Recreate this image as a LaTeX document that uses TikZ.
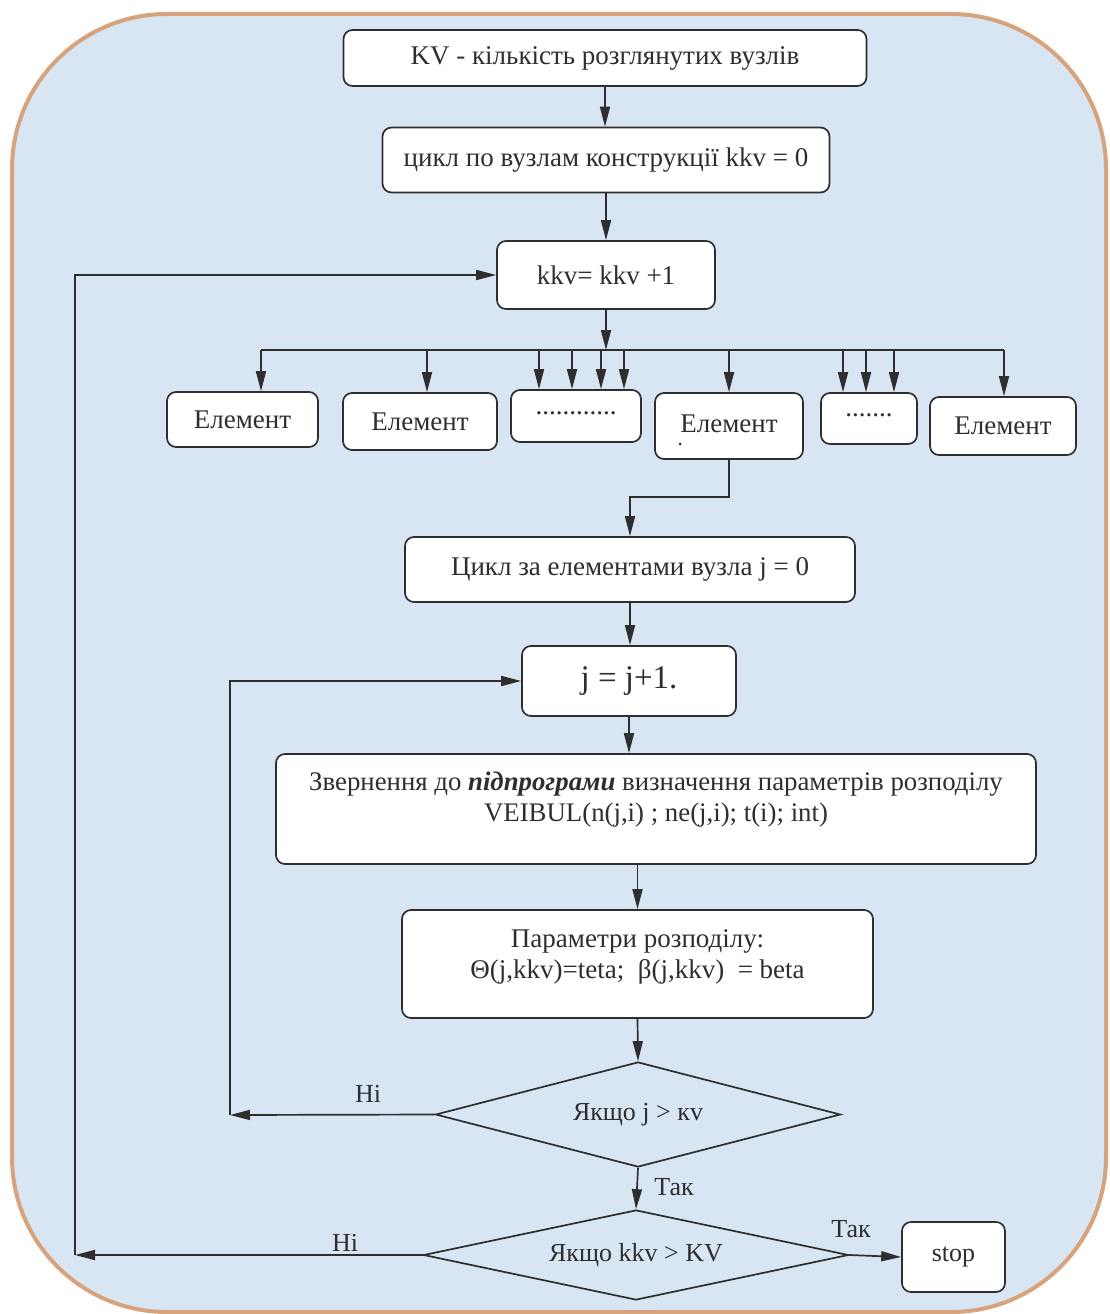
\documentclass[tikz,border=0pt]{standalone}
\usepackage{fontspec}
\setmainfont{Liberation Serif}
\usetikzlibrary{arrows.meta,shapes.geometric}
\definecolor{bgblue}{HTML}{D8E5F3}
\definecolor{bord}{HTML}{D7A37C}
\definecolor{ink}{HTML}{2E2E2E}
\begin{document}
\begin{tikzpicture}[x=1pt,y=-1pt,
  box/.style={draw=ink,line width=1.7pt,fill=white,rounded corners=9pt,inner sep=0pt,text=ink},
  arr/.style={draw=ink,line width=1.7pt,-{Triangle[length=20pt,width=10pt]}},
  ln/.style={draw=ink,line width=1.7pt},
  tx/.style={font=\fontsize{27}{32}\selectfont},
  dia/.style={draw=ink,line width=1.7pt,fill=bgblue,shape=diamond,aspect=3.9,inner sep=0pt},
  lab/.style={font=\fontsize{26}{30}\selectfont,text=ink}
]
\useasboundingbox (0,0) rectangle (1110,1314);
\path[fill=bgblue,draw=bord,line width=4pt,rounded corners=155pt] (12,14) rectangle (1106,1312);

% top boxes
\node[box,tx,minimum width=523pt,minimum height=56pt] (b1) at (605,58) {KV - кількість розглянутих вузлів};
\node[box,tx,minimum width=447pt,minimum height=65pt] (b2) at (606,160) {цикл по вузлам конструкції kkv = 0};
\node[box,tx,minimum width=218pt,minimum height=68pt] (b3) at (606,275) {kkv= kkv +1};
\draw[arr] (b1.south) -- (b1.south |- b2.north);
\draw[arr] (b2.south) -- (b2.south |- b3.north);

% bus
\coordinate (bus) at (606,350);
\coordinate (bl) at (261,350);
\coordinate (br) at (1004,350);
\draw[arr] (b3.south) -- (bus);
\draw[ln] (bl) -- (br);

% elements
\node[box,tx,minimum width=151pt,minimum height=55pt] (e1) at (242.5,419.5) {Елемент};
\node[box,tx,minimum width=154pt,minimum height=57pt] (e2) at (420,421.5) {Елемент};
\node[box,tx,minimum width=130pt,minimum height=52pt] (d1) at (576,416) {\raisebox{6pt}{............}};
\node[box,tx,minimum width=148pt,minimum height=66pt] (e3) at (729,426) {\raisebox{5pt}{Елемент}};
\node[box,tx,minimum width=96pt,minimum height=51pt] (d2) at (869,418.5) {\raisebox{6pt}{.......}};
\node[box,tx,minimum width=146pt,minimum height=58pt] (e4) at (1003,426) {Елемент};
\node[circle,fill=ink,inner sep=0pt,minimum size=3pt] (e3dot) at (680,444) {};

\draw[arr] (bl) -- (bl |- e1.north);
\foreach \xx/\tg in {427/e2,539/d1,572/d1,601/d1,624/d1,729/e3,843/d2,866/d2,894/d2}{
  \coordinate (s) at (\xx,350);
  \draw[arr] (s) -- (s |- \tg.north);
}
\draw[arr] (br) -- (br |- e4.north);

% middle
\node[box,tx,minimum width=450pt,minimum height=65pt] (b4) at (630,569.5) {Цикл за елементами вузла j = 0};
\draw[arr] (e3.south) -- ++(0,37) -| (b4.north);
\node[box,font=\fontsize{33}{38}\selectfont,minimum width=214pt,minimum height=70pt] (b5) at (629,681) {j = j+1.};
\draw[arr] (b4.south) -- (b4.south |- b5.north);
\node[box,minimum width=760pt,minimum height=110pt] (b6) at (656,809) {};
\node[font=\fontsize{26.8}{31}\selectfont,align=center,text=ink] (b6t) at (656,800)
  {Звернення до \textbf{\textit{підпрограми}} визначення параметрів розподілу\\VEIBUL(n(j,i) ; ne(j,i); t(i); int)};
\draw[arr] (b5.south) -- (b5.south |- b6.north);
\node[box,minimum width=471pt,minimum height=108pt] (b7) at (637.5,964) {};
\node[font=\fontsize{27}{31}\selectfont,align=center,text=ink] (b7t) at (637.5,957)
  {Параметри розподілу:\\Θ(j,kkv)=teta;\ \ β(j,kkv)\ \ = beta};
\draw[arr] (b7.north |- b6.south) -- (b7.north);

% decisions
\node[dia,lab,minimum width=405pt,minimum height=105pt] (q1) at (638,1114.5) {Якщо j > кv};
\draw[arr] (b7.south) -- (q1.north);
\coordinate (c1) at (230,1115);
\draw[arr] (q1.west) -- (c1);
\draw[arr] (c1) |- (b5.west);
\node[lab] (n1) at (368,1094) {Ні};

\node[dia,lab,minimum width=425pt,minimum height=90pt] (q2) at (636,1255) {Якщо kkv > KV};
\draw[arr] (q1.south) -- (q2.north);
\node[lab] (t1) at (674,1187) {Так};
\coordinate (c2) at (75,1255);
\draw[arr] (q2.west) -- (c2);
\draw[arr] (c2) |- (b3.west);
\node[lab] (n2) at (345,1243) {Ні};

\node[box,lab,minimum width=103pt,minimum height=70pt] (stop) at (953.5,1257) {\raisebox{4pt}{stop}};
\draw[arr] (q2.east) -- (stop.west);
\node[lab] (t2) at (851,1229) {Так};
\end{tikzpicture}
\end{document}
